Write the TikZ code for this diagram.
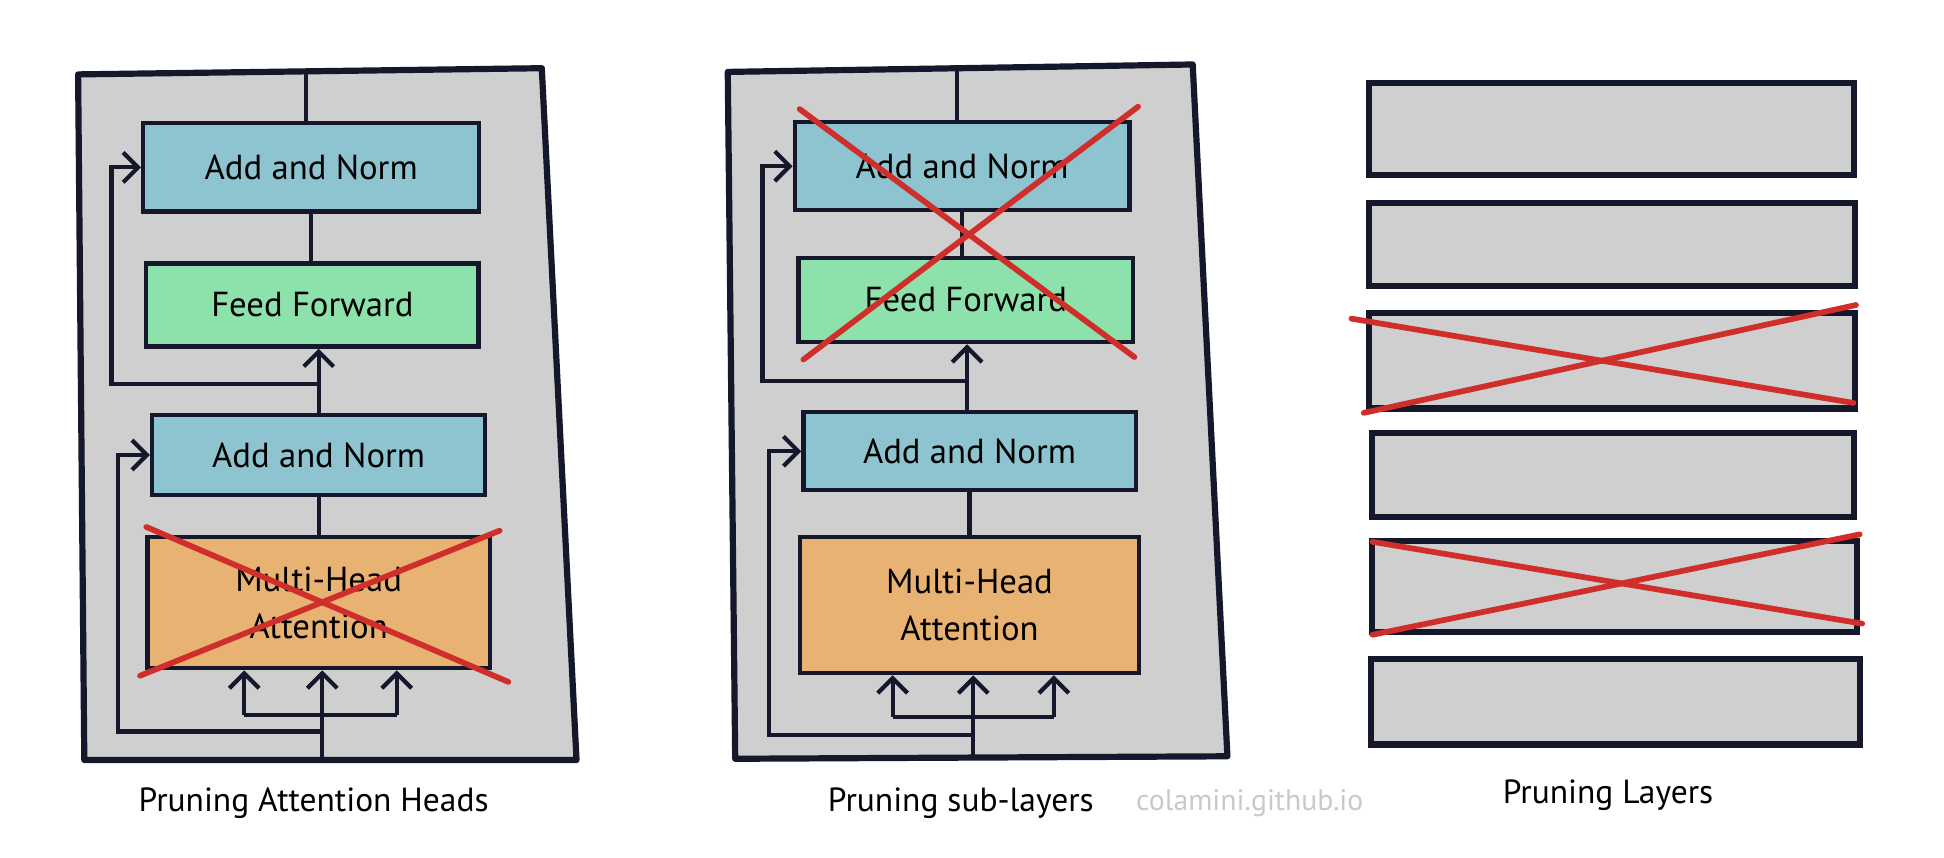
\documentclass[tikz,border=0pt]{standalone}
\usepackage{fontspec}
\setmainfont{PT Sans}
\usetikzlibrary{arrows.meta,calc}
\definecolor{ink}{HTML}{15172A}
\definecolor{panelgray}{HTML}{CFCFCF}
\definecolor{teal}{HTML}{8EC4CF}
\definecolor{ffgreen}{HTML}{8DE1AA}
\definecolor{mhaorange}{HTML}{E8B273}
\definecolor{crossred}{HTML}{CF2E2A}
\definecolor{wmgray}{HTML}{C9C9C9}
\tikzset{
  panel/.style={draw=ink,fill=panelgray,line width=2.5pt,line join=round},
  blk/.style={draw=ink,line width=1.7pt,rectangle,inner sep=0pt,align=center,font=\fontsize{14}{19}\selectfont,text=black},
  addnorm/.style={blk,fill=teal},
  feedfw/.style={blk,fill=ffgreen},
  mhabox/.style={blk,fill=mhaorange},
  layerbar/.style={draw=ink,fill=panelgray,line width=2.5pt,rectangle,inner sep=0pt},
  conn/.style={draw=ink,line width=1.7pt},
  arr/.style={conn,-{Straight Barb[length=6pt,width=12pt,line width=1.7pt]}},
  cross/.style={draw=crossred,line width=2.3pt,line cap=round},
  caption/.style={font=\fontsize{13.5}{16}\selectfont,text=black},
}
\begin{document}
\begin{tikzpicture}[x=0.5pt,y=-0.5pt]
\useasboundingbox (0,0) rectangle (1568,692);

% ---------- Panel 1 ----------
\draw[panel] (63,60) -- (437,55) -- (465,613) -- (68,613) -- cycle;
\node[addnorm,minimum width=135.5pt,minimum height=35.5pt] (an1a) at (251,135) {Add and Norm};
\node[feedfw,minimum width=134pt,minimum height=33.5pt] (ff1) at (252,246) {Feed Forward};
\node[addnorm,minimum width=134.5pt,minimum height=32pt] (an1b) at (257,367) {Add and Norm};
\node[mhabox,minimum width=138pt,minimum height=53pt] (mha1) at (257,486) {Multi-Head\\Attention};
\coordinate (t1) at (247,57);
\coordinate (r1) at (257,310);
\coordinate (r1a) at (90,310);
\coordinate (r2) at (260,590);
\coordinate (r2a) at (95,590);
\coordinate (in1) at (260,612);
\coordinate (s1) at (260,577);
\coordinate (h1L) at (197,577);
\coordinate (h1R) at (320,577);
\draw[conn] (t1) -- (t1 |- an1a.north);
\draw[conn] (an1a.south) -- (an1a.south |- ff1.north);
\draw[arr] (an1b.north) -- (an1b.north |- ff1.south);
\draw[arr] (r1) -- (r1a) |- (an1a.west);
\draw[conn] (mha1.north) -- (mha1.north |- an1b.south);
\draw[arr] (r2) -- (r2a) |- (an1b.west);
\draw[conn] (in1) -- (s1);
\draw[conn] (h1L) -- (h1R);
\draw[arr] (s1) -- (s1 |- mha1.south);
\draw[arr] (h1L) -- (h1L |- mha1.south);
\draw[arr] (h1R) -- (h1R |- mha1.south);
\draw[cross] (118,425) -- (410,550);
\draw[cross] (113,545) -- (403,428);
\node[caption] (cap1) at (253,648) {Pruning Attention Heads};

% ---------- Panel 2 ----------
\draw[panel] (587,58) -- (962,52) -- (990,610) -- (593,612) -- cycle;
\node[addnorm,minimum width=135pt,minimum height=35.5pt] (an2a) at (776,134) {Add and Norm};
\node[feedfw,minimum width=135pt,minimum height=34pt] (ff2) at (779,242) {Feed Forward};
\node[addnorm,minimum width=134pt,minimum height=31.5pt] (an2b) at (782,364) {Add and Norm};
\node[mhabox,minimum width=136.5pt,minimum height=55pt] (mha2) at (782,488) {Multi-Head\\Attention};
\coordinate (t2) at (772,55);
\coordinate (q1) at (780,307);
\coordinate (q1a) at (615,307);
\coordinate (q2) at (785,593);
\coordinate (q2a) at (620,593);
\coordinate (in2) at (785,610);
\coordinate (s2) at (785,578);
\coordinate (h2L) at (720,578);
\coordinate (h2R) at (850,578);
\draw[conn] (t2) -- (t2 |- an2a.north);
\draw[conn] (an2a.south) -- (an2a.south |- ff2.north);
\draw[arr] (q1 |- an2b.north) -- (q1 |- ff2.south);
\draw[arr] (q1) -- (q1a) |- (an2a.west);
\draw[conn] (mha2.north) -- (mha2.north |- an2b.south);
\draw[arr] (q2) -- (q2a) |- (an2b.west);
\draw[conn] (in2) -- (s2);
\draw[conn] (h2L) -- (h2R);
\draw[arr] (s2) -- (s2 |- mha2.south);
\draw[arr] (h2L) -- (h2L |- mha2.south);
\draw[arr] (h2R) -- (h2R |- mha2.south);
\draw[cross] (645,88) -- (915,288);
\draw[cross] (648,290) -- (918,86);
\node[caption] (cap2) at (775,648) {Pruning sub-layers};
\node[font=\fontsize{12}{15}\selectfont,text=wmgray] (wm) at (1008,648) {colamini.github.io};

% ---------- Panel 3 ----------
\node[layerbar,minimum width=195.5pt,minimum height=37pt] (L1) at (1300,104) {};
\node[layerbar,minimum width=196pt,minimum height=33.5pt] (L2) at (1300,197) {};
\node[layerbar,minimum width=196pt,minimum height=38.5pt] (L3) at (1300,291) {};
\node[layerbar,minimum width=194.5pt,minimum height=34pt] (L4) at (1301,383) {};
\node[layerbar,minimum width=195.5pt,minimum height=36.5pt] (L5) at (1302,473) {};
\node[layerbar,minimum width=197pt,minimum height=34.5pt] (L6) at (1303,566) {};
\draw[cross] (1090,257) -- (1495,325);
\draw[cross] (1100,333) -- (1497,246);
\draw[cross] (1107,437) -- (1502,503);
\draw[cross] (1107,512) -- (1500,431);
\node[caption] (cap3) at (1297,641) {Pruning Layers};
\end{tikzpicture}
\end{document}
